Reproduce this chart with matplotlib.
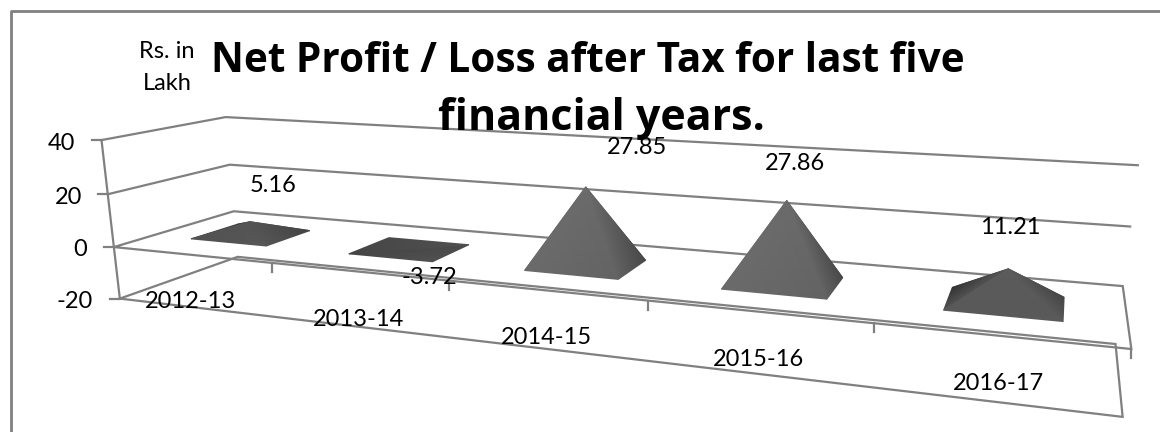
import numpy as np
import matplotlib
matplotlib.use('Agg')
import matplotlib.pyplot as plt

plt.rcParams['font.family'] = ['Lato', 'DejaVu Sans']

# chart values, Rs. in Lakh
years = ['2012-13', '2013-14', '2014-15', '2015-16', '2016-17']
profit = [5.16, -3.72, 27.85, 27.86, 11.21]
axis_ticks = [40, 20, 0, -20]

# layout in pixels
year_label_px = [(191, 302), (358, 319), (546, 338), (758, 359), (998, 383)]
value_label_px = [(273, 186), (429, 277), (637, 147), (795, 164), (1010, 228)]
tick_label_px = [(75, 143), (82, 197), (87, 249), (93, 302)]

line_col = '#808080'

# reference points for the camera: (category, depth, value) -> pixel
# depth 0 is the front of the box, 1 the back wall
known = [
    (0, 0, 40, 102, 141), (0, 1, 40, 225, 117), (5, 1, 40, 1138, 165),
    (0, 0, 20, 108, 195), (0, 1, 20, 230, 164), (5, 1, 20, 1130, 227),
    (0, 0, 0, 113, 247), (0, 1, 0, 234, 211), (5, 1, 0, 1123, 286),
    (5, 0, 0, 1131, 348), (0, 0, -20, 120, 299), (0, 1, -20, 238, 257),
    (5, 1, -20, 1115, 345), (5, 0, -20, 1123, 417),
    (1, 0, 0, 272, 262), (2, 0, 0, 449, 280), (3, 0, 0, 649, 301),
    (4, 0, 0, 874, 323),
]

# solve the 3x4 projection matrix from the points above
rows = []
for cx, cd, cz, px, py in known:
    cz = cz / 20.0
    rows.append([cx, cd, cz, 1, 0, 0, 0, 0, -px*cx, -px*cd, -px*cz, -px])
    rows.append([0, 0, 0, 0, cx, cd, cz, 1, -py*cx, -py*cd, -py*cz, -py])
u, s, vt = np.linalg.svd(np.array(rows, dtype=float))
cam = vt[-1].reshape(3, 4)


def proj(cx, cd, cz):
    p = cam @ np.array([cx, cd, cz / 20.0, 1.0])
    return p[0] / p[2], p[1] / p[2]


fig = plt.figure(figsize=(11.6, 4.32), dpi=100)
ax = fig.add_axes([0, 0, 1, 1])
ax.set_xlim(0, 1160)
ax.set_ylim(432, 0)
ax.axis('off')


def path(pts, lw=1.6):
    xy = [proj(*q) for q in pts]
    ax.plot([q[0] for q in xy], [q[1] for q in xy], color=line_col, lw=lw,
            solid_joinstyle='miter', zorder=1)


# outer frame, only top and left are inside the image
ax.plot([10.5, 10.5, 1160], [432, 10.5, 10.5], color=line_col, lw=2, zorder=1)

# gridlines on side and back wall
for v in axis_ticks[:2]:
    path([(0, 0, v), (0, 1, v), (5, 1, v)])

# zero plane and floor
path([(0, 0, 0), (0, 1, 0), (5, 1, 0), (5, 0, 0), (0, 0, 0)])
path([(0, 0, -20), (0, 1, -20), (5, 1, -20), (5, 0, -20), (0, 0, -20)])
path([(0, 0, 40), (0, 0, -20)])

# value axis ticks
for v in axis_ticks:
    x0, y0 = proj(0, 0, v)
    ax.plot([x0 - 9.5, x0], [y0, y0], color=line_col, lw=1.6, zorder=1)

# category ticks along the front of the zero plane
for i in range(1, 6):
    x0, y0 = proj(i, 0, 0)
    ax.plot([x0, x0], [y0, y0 + 9], color=line_col, lw=1.6, zorder=1)


def face(pts, greys):
    xy = np.array([proj(*q) for q in pts])
    ax.tripcolor(xy[:, 0], xy[:, 1], [[0, 1, 2]], greys, shading='gouraud',
                 cmap='gray', vmin=0, vmax=1, zorder=3)


half_w = 0.245
d0, d1 = 0.3, 0.7

for i, v in enumerate(profit):
    c = i + 0.5
    fl = (c - half_w, d0, 0)
    fr = (c + half_w, d0, 0)
    br = (c + half_w, d1, 0)
    bl = (c - half_w, d1, 0)
    top = (c, (d0 + d1) / 2, v)

    # steep faces catch more light than the nearly flat ones
    t = min(abs(v) / 27.0, 1.0)
    g = lambda flat, tall: flat + t * (tall - flat)

    base = [(fl, fr, br), (fl, br, bl)]
    if v < 0:
        for tri in base:
            face(tri, [0.27, 0.32, 0.29])
    else:
        face((bl, br, top), [0.25, 0.25, 0.3])
        face((bl, fl, top), [0.2, g(0.27, 0.4), g(0.3, 0.4)])
        face((fr, br, top), [g(0.32, 0.39), g(0.26, 0.28), g(0.31, 0.42)])
        face((fl, fr, top), [g(0.3, 0.42), g(0.33, 0.39), g(0.31, 0.42)])

# text
ax.text(588, 62, 'Net Profit / Loss after Tax for last five', ha='center',
        va='center', fontsize=29.2, fontweight='bold', color='black',
        family='Open Sans', zorder=5)
ax.text(601, 119, 'financial years.', ha='center', va='center', fontsize=31,
        fontweight='bold', color='black', family='Open Sans', zorder=5)
ax.text(167, 52, 'Rs. in', ha='center', va='center', fontsize=17, zorder=5)
ax.text(167, 83, 'Lakh', ha='center', va='center', fontsize=17, zorder=5)

for v, (x0, y0) in zip(axis_ticks, tick_label_px):
    ax.text(x0, y0, str(v), ha='right', va='center', fontsize=17, zorder=5)

for name, (x0, y0) in zip(years, year_label_px):
    ax.text(x0, y0, name, ha='center', va='center', fontsize=17, zorder=5)

for v, (x0, y0) in zip(profit, value_label_px):
    ax.text(x0, y0, '%.2f' % v, ha='center', va='center', fontsize=17, zorder=5)

fig.savefig('out.png', dpi=100)
